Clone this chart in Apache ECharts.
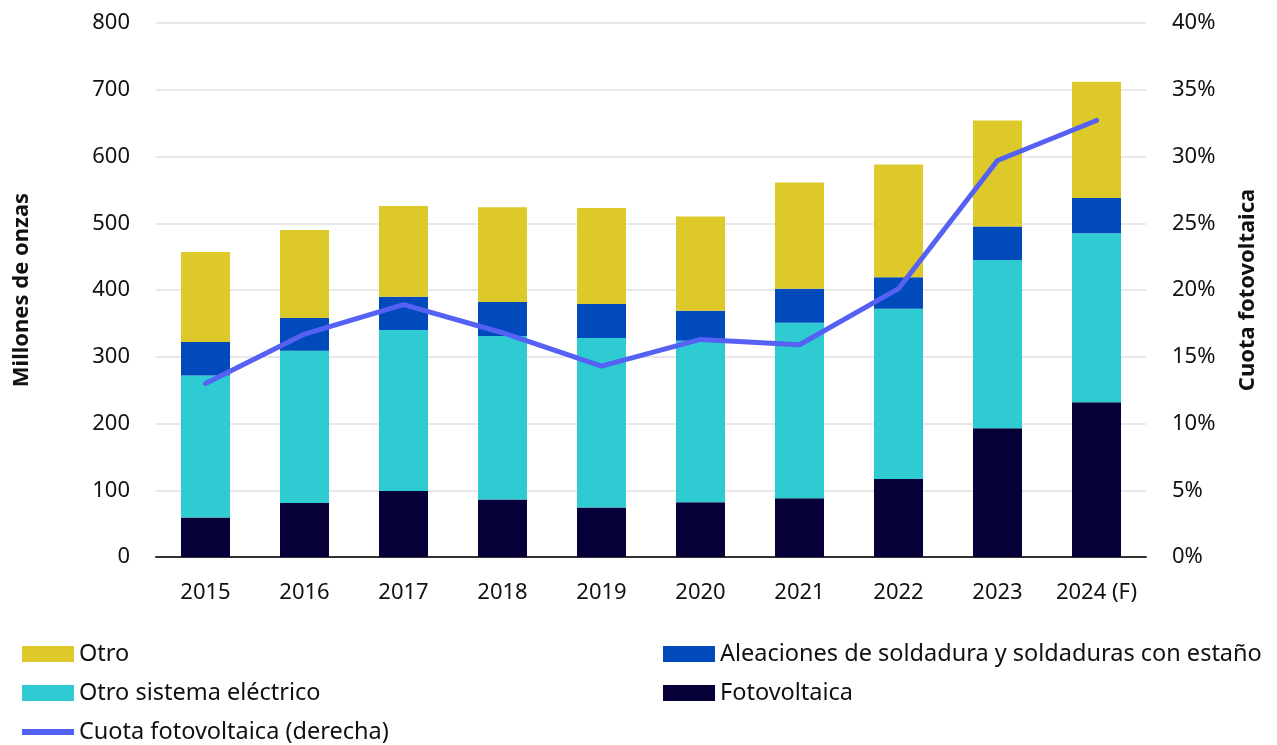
<!DOCTYPE html>
<html>
<head>
<meta charset="utf-8">
<script src="https://cdn.jsdelivr.net/npm/echarts@6/dist/echarts.min.js"></script>
<style>
  html, body { margin: 0; padding: 0; background: #fff; }
  #main { width: 1277px; height: 745px; }
</style>
</head>
<body>
<div id="main"></div>
<script>
// categorias y valores (millones de onzas)
const years = ['2015', '2016', '2017', '2018', '2019', '2020', '2021', '2022', '2023', '2024 (F)']
const fotovoltaica = [59, 81, 99, 86, 74, 82, 88, 117, 193, 232]
const otroElectrico = [213, 228, 241, 245, 254, 242, 263, 255, 252, 253]
const aleaciones = [50, 49, 50, 51, 51, 45, 51, 47, 50, 53]
const otro = [135, 132, 136, 142, 144, 141, 159, 169, 159, 174]
// cuota fotovoltaica, %
const cuota = [13.0, 16.7, 18.9, 16.8, 14.3, 16.3, 15.9, 20.1, 29.7, 32.7]

const FONT = 'Noto Sans'
const chart = echarts.init(document.getElementById('main'))

const barSeries = (name, data, color) => ({
  name: name,
  type: 'bar',
  stack: 'total',
  data: data,
  barWidth: 49,
  itemStyle: { color: color },
  emphasis: { disabled: true }
})

const legendText = { fontFamily: FONT, fontSize: 23.5, color: '#111' }
// una leyenda por casilla para fijar la posicion
const legendItem = (name, left, top, h) => ({
  left: left, top: top, orient: 'horizontal',
  itemWidth: 52, itemHeight: h || 16,
  textStyle: legendText,
  data: [{ name: name, icon: 'rect' }]
})

const option = {
  animation: false,
  textStyle: { fontFamily: FONT },
  grid: { left: 156, right: 131, top: 23, bottom: 188, containLabel: false, outerBoundsMode: 'none' },
  legend: [
    legendItem('Otro', 17, 637),
    legendItem('Aleaciones de soldadura y soldaduras con estaño', 658, 637),
    legendItem('Otro sistema eléctrico', 17, 676),
    legendItem('Fotovoltaica', 658, 676),
    legendItem('Cuota fotovoltaica (derecha)', 17, 715, 6)
  ],
  xAxis: {
    type: 'category',
    data: years,
    axisLine: { lineStyle: { color: '#333', width: 2 } },
    axisTick: { show: false },
    axisLabel: { fontFamily: FONT, fontSize: 22, color: '#111', margin: 25, interval: 0 }
  },
  yAxis: [
    {
      type: 'value', min: 0, max: 800, interval: 100,
      name: 'Millones de onzas', nameLocation: 'middle', nameGap: 123,
      nameTextStyle: { fontFamily: FONT, fontSize: 22, fontWeight: 'bold', color: '#111' },
      axisLabel: { fontFamily: FONT, fontSize: 22, color: '#111', margin: 26 },
      splitLine: { lineStyle: { color: '#e8e8e8', width: 2 } },
      axisLine: { show: false },
      axisTick: { show: false }
    },
    {
      type: 'value', min: 0, max: 40, interval: 5, position: 'right',
      name: 'Cuota fotovoltaica', nameLocation: 'middle', nameGap: 91,
      nameTextStyle: { fontFamily: FONT, fontSize: 22, fontWeight: 'bold', color: '#111' },
      axisLabel: { fontFamily: FONT, fontSize: 22, color: '#111', margin: 26, formatter: '{value}%' },
      splitLine: { show: false },
      axisLine: { show: false },
      axisTick: { show: false }
    }
  ],
  series: [
    barSeries('Fotovoltaica', fotovoltaica, '#050038'),
    barSeries('Otro sistema eléctrico', otroElectrico, '#2ECBD2'),
    barSeries('Aleaciones de soldadura y soldaduras con estaño', aleaciones, '#004ABB'),
    barSeries('Otro', otro, '#DEC92B'),
    {
      name: 'Cuota fotovoltaica (derecha)',
      type: 'line',
      yAxisIndex: 1,
      data: cuota,
      symbol: 'none',
      lineStyle: { color: '#5561F2', width: 5, cap: 'round', join: 'round' },
      itemStyle: { color: '#5561F2' },
      emphasis: { disabled: true },
      z: 5
    }
  ]
}

chart.setOption(option)
</script>
</body>
</html>
